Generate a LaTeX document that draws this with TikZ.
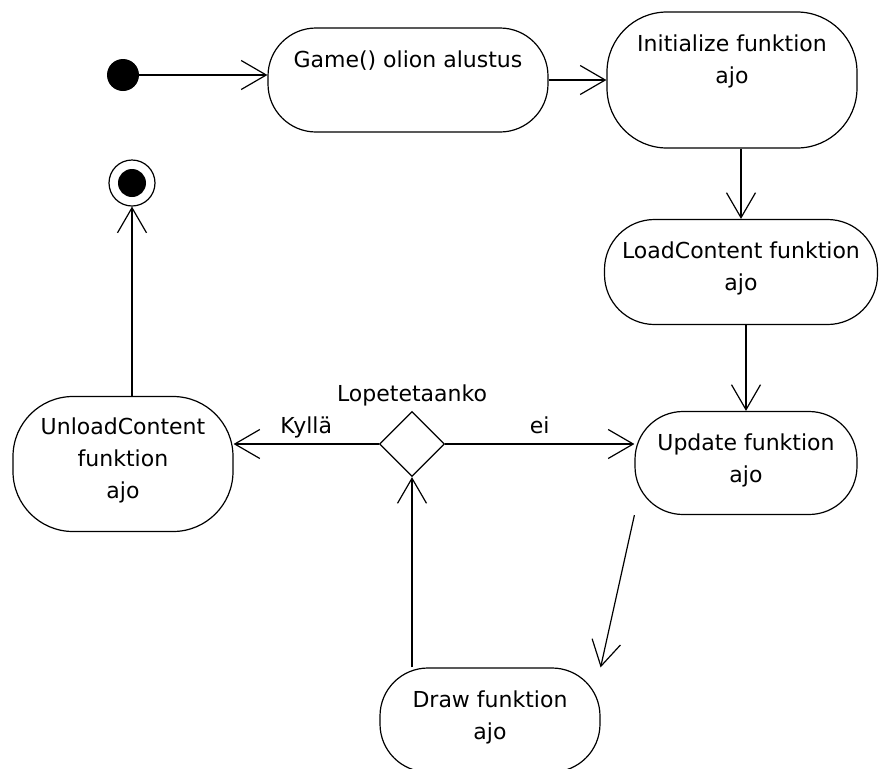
\documentclass[tikz,border=0pt]{standalone}
\usepackage{fontspec}
\setmainfont{DejaVu Sans}
\usetikzlibrary{arrows.meta,shapes.geometric}

\begin{document}
\begin{tikzpicture}[x=1pt,y=-1pt,
    state/.style={draw=black,line width=1.2pt,rounded corners=#1},
    state/.default=48pt,
    txt/.style={font=\fontsize{22}{32}\selectfont,align=center,inner sep=0pt,anchor=north},
    lbl/.style={font=\fontsize{22}{32}\selectfont,inner sep=0pt,anchor=base},
    flow/.style={draw=black,line width=1.2pt,-{Straight Barb[length=25pt,width=29pt]}}]
    \useasboundingbox (0,0) rectangle (879,769);

    % start and end
    \node[shape=circle,fill=black,minimum size=32pt,inner sep=0pt] (start) at (123,75) {};
    \node[shape=circle,draw=black,line width=1.2pt,minimum size=46pt,inner sep=0pt] (final) at (132,183) {};
    \node[shape=circle,fill=black,minimum size=28pt,inner sep=0pt] (finalDot) at (final.center) {};

    % states
    \node[state,minimum width=280pt,minimum height=104pt] (game) at (408,80) {};
    \node[state=60pt,minimum width=250pt,minimum height=136pt] (init) at (732,80) {};
    \node[state=50pt,minimum width=273pt,minimum height=105pt] (load) at (741,272) {};
    \node[state,minimum width=222pt,minimum height=103pt] (update) at (746,463) {};
    \node[state=60pt,minimum width=220pt,minimum height=135pt] (unload) at (123,464) {};
    \node[state,minimum width=220pt,minimum height=104pt] (drawfn) at (490,720) {};
    \node[shape=diamond,draw=black,line width=1.2pt,minimum size=65pt,inner sep=0pt] (dec) at (412,444) {};

    \node[txt] (gameT) at ([yshift=-23pt]game.north) {Game() olion alustus};
    \node[txt] (initT) at ([yshift=-23pt]init.north) {Initialize funktion\\ajo};
    \node[txt] (loadT) at ([yshift=-23pt]load.north) {LoadContent funktion\\ajo};
    \node[txt] (updateT) at ([yshift=-23pt]update.north) {Update funktion\\ajo};
    \node[txt] (unloadT) at ([yshift=-22pt]unload.north) {UnloadContent\\funktion\\ajo};
    \node[txt] (drawT) at ([yshift=-23pt]drawfn.north) {Draw funktion\\ajo};
    \node[lbl] (decT) at ([yshift=9pt]dec.north) {Lopetetaanko};

    % transitions
    \draw[flow] (start) -- (start -| game.west);
    \draw[flow] (game) -- (init);
    \draw[flow] (load.north |- init.south) -- (load.north);
    \draw[flow] (update.north |- load.south) -- (update.north);
    \draw[flow] (dec.east) -- (dec.east -| update.west) node[lbl,midway,yshift=11pt] (eiT) {ei};
    \draw[flow] (dec.west) -- (dec.west -| unload.east) node[lbl,midway,yshift=11pt] (kyllaT) {Kyllä};
    \draw[flow] (final.south |- unload.north) -- (final.south);
    \draw[flow] (dec.south |- drawfn.north) -- (dec.south);
    \draw[flow] (update.south west) -- (drawfn.north east);
\end{tikzpicture}
\end{document}
